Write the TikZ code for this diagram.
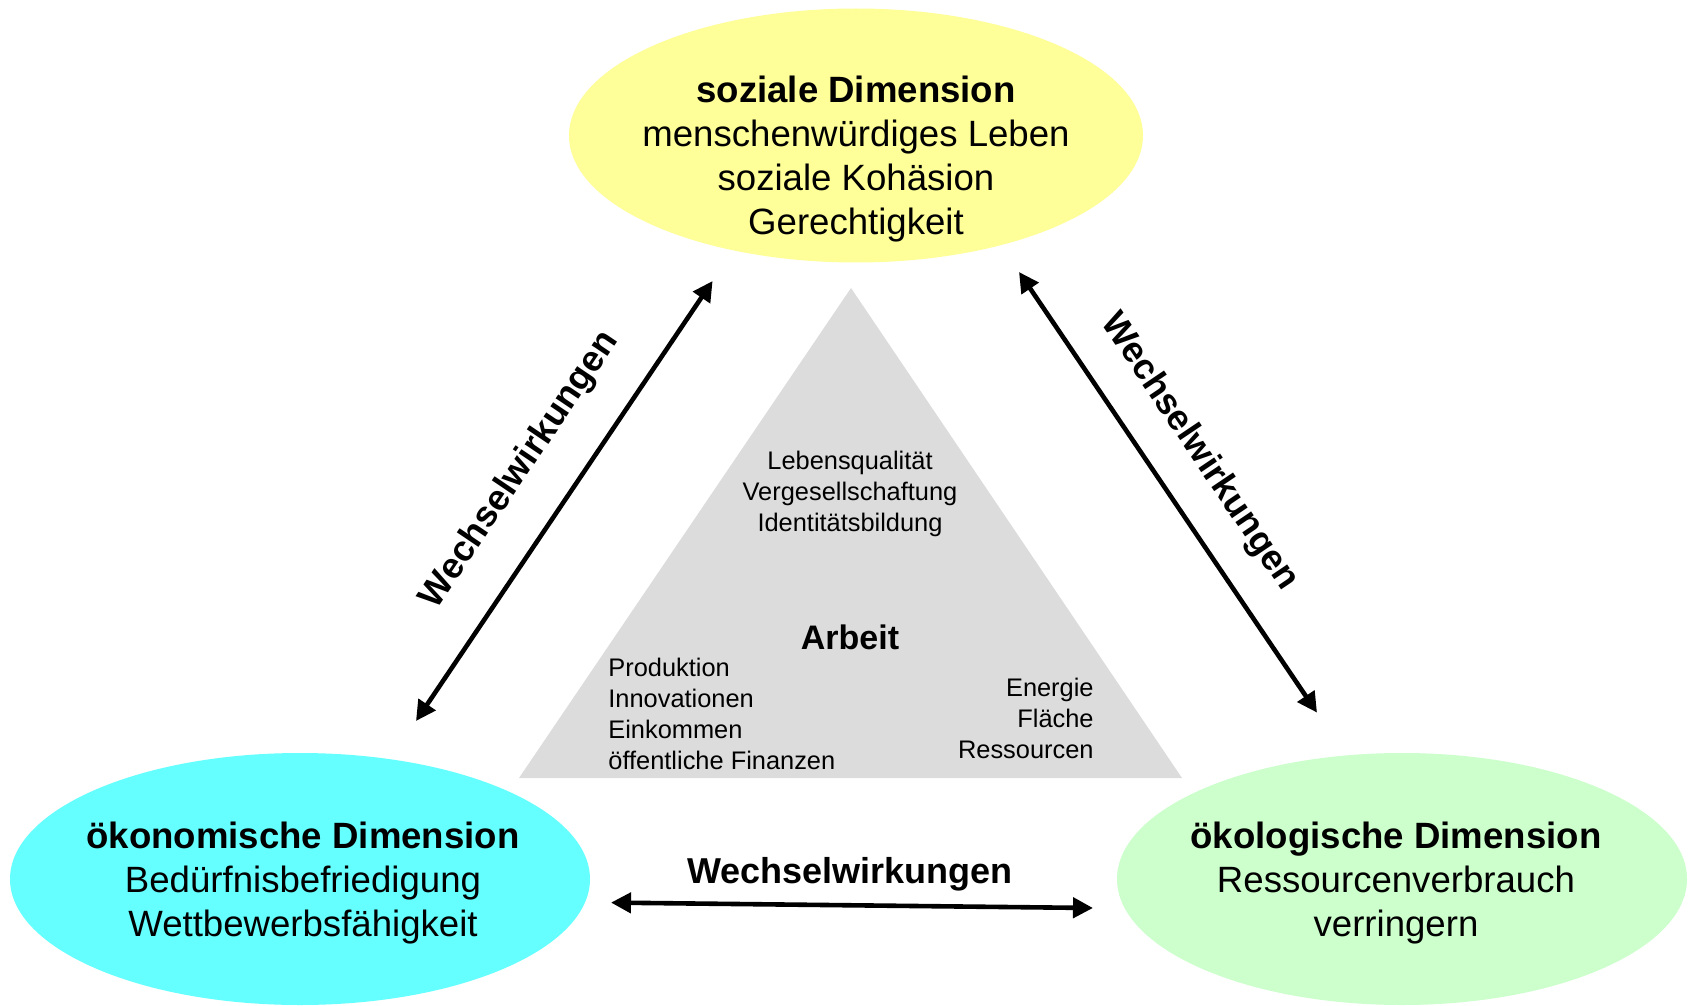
\documentclass[tikz,border=0pt]{standalone}
\usepackage{fontspec}
\setmainfont{Liberation Sans}
\usetikzlibrary{arrows.meta,shapes.geometric}
\definecolor{socyellow}{HTML}{FFFF99}
\definecolor{ecocyan}{HTML}{66FFFF}
\definecolor{ecogreen}{HTML}{CCFFCC}
\definecolor{trigray}{HTML}{DCDCDC}
\tikzset{
  dimell/.style={ellipse, draw=none, inner sep=0pt},
  bigtxt/.style={align=center, inner sep=0pt, font=\fontsize{18.3}{22}\selectfont},
  smalltxt/.style={inner sep=0pt, font=\fontsize{12.7}{15.5}\selectfont},
  wwlabel/.style={inner sep=0pt, font=\bfseries\fontsize{18}{21}\selectfont},
  wwarrow/.style={line width=2.3pt, {Triangle[length=10pt,width=10pt]}-{Triangle[length=10pt,width=10pt]}}
}
\begin{document}
\begin{tikzpicture}[x=0.5pt,y=-0.5pt]
\useasboundingbox (0,0) rectangle (1693,1006);
% ellipses
\node[dimell, fill=socyellow, minimum width=287pt, minimum height=127pt] (soc) at (856,135.5) {};
\node[dimell, fill=ecocyan, minimum width=290pt, minimum height=126pt] (eco) at (300,879) {};
\node[dimell, fill=ecogreen, minimum width=285pt, minimum height=126pt] (oek) at (1402,879) {};
% triangle
\fill[trigray] (851,288) -- (519,778) -- (1182,778) -- cycle;
% ellipse texts
\node[bigtxt] (soctxt) at (856,159) {\textbf{soziale Dimension}\\menschenwürdiges Leben\\soziale Kohäsion\\Gerechtigkeit};
\node[bigtxt] (ecotxt) at (303,883.5) {\textbf{ökonomische Dimension}\\Bedürfnisbefriedigung\\Wettbewerbsfähigkeit};
\node[bigtxt] (oektxt) at (1396,883.5) {\textbf{ökologische Dimension}\\Ressourcenverbrauch\\verringern};
% triangle texts
\node[smalltxt, align=center] (trtop) at (850,493.5) {Lebensqualität\\Vergesellschaftung\\Identitätsbildung};
\node[inner sep=0pt, font=\bfseries\fontsize{17}{20}\selectfont] (arbeit) at (850,637) {Arbeit};
\node[smalltxt, align=left, anchor=west] (trleft) at (608,714) {Produktion\\Innovationen\\Einkommen\\öffentliche Finanzen};
\node[smalltxt, align=right, anchor=east] (trright) at (1094,718) {Energie\\Fläche\\Ressourcen};
% arrows
\coordinate (l1) at (416,721);
\coordinate (l2) at (712.6,281);
\coordinate (r1) at (1019,272);
\coordinate (r2) at (1317,712.6);
\coordinate (b1) at (611,902.6);
\coordinate (b2) at (1093,908);
\draw[wwarrow] (l1) -- (l2);
\draw[wwarrow] (r1) -- (r2);
\draw[wwarrow] (b1) -- (b2);
% labels
\node[wwlabel, rotate=56] (lab1) at (520,470) {Wechselwirkungen};
\node[wwlabel, rotate=-56] (lab2) at (1199,452) {Wechselwirkungen};
\node[wwlabel] (lab3) at (850,874) {Wechselwirkungen};
\end{tikzpicture}
\end{document}
